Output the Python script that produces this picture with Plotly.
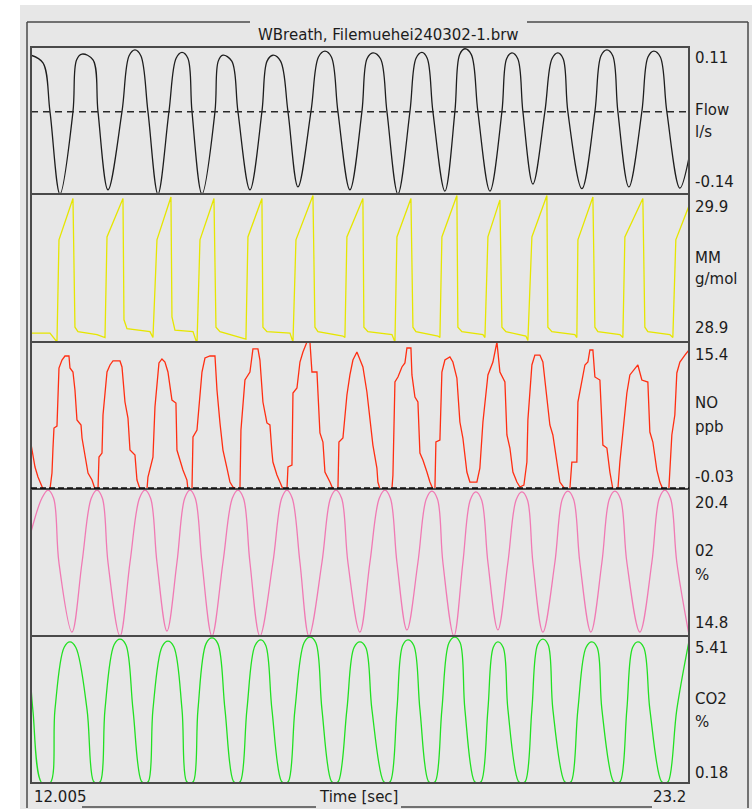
import plotly.graph_objects as go

# ---------------- data ----------------
time_start, time_end = 12.005, 23.2

flow_t = [12.005, 12.209, 12.328, 12.498,
          12.719, 12.78, 12.873, 13.06, 13.145, 13.315,
          13.553, 13.674, 13.774, 13.874, 13.995, 14.165,
          14.352, 14.474, 14.574, 14.674, 14.744, 14.914,
          15.135, 15.191, 15.271, 15.421, 15.526, 15.73,
          15.934, 16.021, 16.121, 16.251, 16.377, 16.547,
          16.768, 16.896, 17.006, 17.116, 17.227, 17.431,
          17.635, 17.722, 17.822, 17.952, 18.061, 18.248,
          18.452, 18.556, 18.656, 18.746, 18.843, 19.047,
          19.217, 19.297, 19.387, 19.497, 19.608, 19.813,
          20.017, 20.097, 20.187, 20.287, 20.374, 20.544,
          20.748, 20.869, 20.969, 21.059, 21.139, 21.378,
          21.599, 21.703, 21.803, 21.903, 21.99, 22.177,
          22.398, 22.502, 22.602, 22.712, 22.823, 23.045, 23.2]
flow_v = [0.096, 0.083, 0.0, -0.14,
          0.0, 0.088, 0.098, 0.088, 0.0, -0.133,
          0.0, 0.095, 0.105, 0.095, 0.0, -0.14,
          0.0, 0.091, 0.101, 0.091, 0.0, -0.14,
          0.0, 0.086, 0.096, 0.086, 0.0, -0.133,
          0.0, 0.086, 0.096, 0.086, 0.0, -0.128,
          0.0, 0.093, 0.103, 0.093, 0.0, -0.133,
          0.0, 0.09, 0.10, 0.09, 0.0, -0.14,
          0.0, 0.091, 0.101, 0.091, 0.0, -0.135,
          0.0, 0.097, 0.107, 0.097, 0.0, -0.135,
          0.0, 0.09, 0.10, 0.09, 0.0, -0.123,
          0.0, 0.09, 0.10, 0.09, 0.0, -0.131,
          0.0, 0.095, 0.105, 0.095, 0.0, -0.128,
          0.0, 0.093, 0.103, 0.093, 0.0, -0.13, -0.078]

mm_t = [12.005, 12.328, 12.447, 12.481, 12.719, 12.753,
        12.804, 13.128, 13.264, 13.298, 13.57, 13.587,
        13.638, 14.029, 14.08, 14.148, 14.386, 14.403,
        14.454, 14.761, 14.829, 14.88, 15.118, 15.152,
        15.22, 15.611, 15.662, 15.696, 15.934, 15.951,
        16.019, 16.411, 16.462, 16.513, 16.802, 16.836,
        16.887, 17.312, 17.346, 17.38, 17.652, 17.669,
        17.737, 18.146, 18.197, 18.231, 18.469, 18.503,
        18.554, 18.928, 18.962, 18.996, 19.251, 19.268,
        19.336, 19.694, 19.728, 19.779, 19.983, 20.017,
        20.085, 20.425, 20.459, 20.527, 20.782, 20.799,
        20.867, 21.258, 21.292, 21.31, 21.565, 21.599,
        21.65, 22.024, 22.075, 22.109, 22.415, 22.449,
        22.5, 22.874, 22.925, 22.976, 23.2]
mm_v = [28.96, 28.96, 28.9, 29.59, 29.87, 29.0,
        28.97, 28.95, 28.93, 29.61, 29.87, 29.05,
        28.99, 28.97, 28.93, 29.59, 29.88, 29.07,
        28.98, 28.97, 28.89, 29.59, 29.87, 29.0,
        28.97, 28.93, 28.92, 29.61, 29.87, 29.0,
        28.97, 28.96, 28.9, 29.59, 29.89, 29.0,
        28.97, 28.94, 28.93, 29.61, 29.87, 29.0,
        28.97, 28.95, 28.9, 29.61, 29.87, 29.0,
        28.97, 28.94, 28.93, 29.61, 29.89, 29.0,
        28.97, 28.95, 28.93, 29.61, 29.86, 29.0,
        28.97, 28.94, 28.91, 29.61, 29.89, 29.0,
        28.97, 28.95, 28.93, 29.59, 29.88, 29.0,
        28.97, 28.95, 28.93, 29.61, 29.87, 29.0,
        28.97, 28.95, 28.93, 29.59, 29.82]

no_t = [12.005, 12.039, 12.073, 12.124, 12.192, 12.209, 12.328, 12.345, 12.362, 12.379, 12.396, 12.447, 12.464,
        12.481, 12.532, 12.583, 12.651, 12.668, 12.719, 12.753, 12.787, 12.856, 12.873, 12.924, 12.975, 13.043,
        13.094, 13.145,
        13.162, 13.213, 13.23, 13.298, 13.349, 13.4, 13.519, 13.553, 13.604, 13.655, 13.689, 13.774, 13.808, 13.859, 13.978,
        13.995, 14.08, 14.114, 14.148, 14.182, 14.233, 14.284, 14.335, 14.403, 14.471, 14.488, 14.539, 14.59, 14.658, 14.675, 14.744,
        14.761, 14.829, 14.914, 14.965, 15.05, 15.135, 15.169, 15.22, 15.271, 15.339, 15.39, 15.441, 15.509, 15.56,
        15.577, 15.645, 15.73, 15.781, 15.866, 15.9, 15.951, 16.019, 16.07, 16.104, 16.121, 16.189, 16.24, 16.291, 16.36,
        16.377, 16.445, 16.462, 16.53, 16.581, 16.632, 16.7, 16.751, 16.785, 16.87, 16.921, 16.972, 17.006, 17.091, 17.142, 17.227,
        17.244, 17.312, 17.38, 17.431, 17.482, 17.55, 17.601, 17.652, 17.72, 17.771, 17.822, 17.89, 17.907, 17.941, 18.146,
        18.163, 18.197, 18.248, 18.316, 18.367, 18.401, 18.469, 18.486, 18.537, 18.588, 18.622, 18.673, 18.741, 18.792, 18.843, 18.877,
        18.894, 18.962, 18.996, 19.047, 19.132, 19.183, 19.251, 19.302, 19.353, 19.421, 19.472, 19.591,
        19.642, 19.676, 19.694, 19.779, 19.864, 19.932, 19.983, 20.068, 20.102, 20.153, 20.204, 20.272, 20.323, 20.391,
        20.442, 20.459, 20.527, 20.578, 20.663, 20.714, 20.782, 20.833, 20.884, 20.953, 21.003, 21.088, 21.173,
        21.207, 21.292, 21.31, 21.378, 21.429, 21.48, 21.514, 21.565, 21.599, 21.684, 21.735, 21.803, 21.854, 21.905, 21.99,
        22.024, 22.075, 22.143, 22.194, 22.279, 22.33, 22.398, 22.5, 22.534, 22.585, 22.653, 22.704, 22.755, 22.857,
        22.908, 22.959, 22.993, 23.045, 23.13, 23.2]
no_v = [4.69, 3.32, 2.28, 1.23, 0.18, -0.03, -0.03, 0.6, 1.65, 4.27, 6.37, 6.58, 9.63,
        12.67, 13.51, 13.93, 13.93, 12.67, 12.25, 10.36, 7.21, 6.69, 5.32, 3.22, 1.65, 0.91,
        -0.03, -0.03,
        3.32, 3.74, 7.74, 12.25, 12.99, 13.41, 13.41, 12.78, 9.1, 7.42, 4.06, 3.53, 0.91, -0.03, -0.03,
        1.23, 3.32, 8.58, 10.68, 13.2, 13.62, 13.3, 12.25, 9.31, 9.0, 4.06, 3.01, 1.96, 0.91, -0.03, -0.03,
        5.43, 6.16, 12.25, 13.72, 13.93, 13.93, 10.36, 6.9, 4.06, 2.17, 0.7, 0.18, -0.03, -0.03,
        6.16, 11.41, 12.25, 14.67, 14.67, 13.51, 9.1, 6.9, 6.69, 3.85, 2.8, 1.44, 0.6, -0.03, -0.03,
        2.28, 2.49, 10.05, 10.57, 13.3, 14.35, 15.4, 15.4, 12.25, 12.25, 5.85, 4.9, 1.75, 0.7, -0.03, -0.03,
        4.9, 5.32, 9.84, 11.94, 13.51, 14.35, 13.51, 12.78, 10.15, 7.42, 4.58, 2.17, 0.7, -0.03, -0.03,
        1.44, 11.2, 11.73, 12.78, 13.2, 14.77, 14.77, 11.94, 9.63, 9.1, 3.74, 3.01, 1.75, 0.7, -0.03, -0.03,
        4.9, 5.11, 12.25, 13.51, 13.83, 13.3, 11.62, 7.0, 5.32, 1.75, 0.7, 0.7,
        2.17, 5.64, 7.0, 11.94, 13.3, 15.4, 12.25, 11.2, 5.64, 4.27, 1.75, 0.7, 0.18, 0.39,
        2.8, 7.21, 12.99, 14.03, 14.03, 13.3, 9.52, 6.69, 5.64, 2.7, 0.7, -0.03, -0.03,
        2.8, 2.8, 9.1, 11.2, 12.99, 13.3, 14.56, 14.56, 11.73, 11.41, 4.58, 4.27, 1.75, -0.03, -0.03,
        2.8, 5.95, 10.05, 11.94, 12.67, 12.99, 11.41, 11.2, 5.95, 4.9, 1.96, 0.7, -0.03, -0.03,
        5.64, 7.74, 12.15, 13.3, 14.03, 14.56]

o2_t = [12.005, 12.19, 12.294, 12.39, 12.48, 12.702,
        12.873, 13.03, 13.128, 13.22, 13.315, 13.519,
        13.689, 13.85, 13.944, 14.04, 14.148, 14.318,
        14.488, 14.62, 14.71, 14.80, 14.914, 15.084,
        15.271, 15.43, 15.526, 15.62, 15.73, 15.9,
        16.121, 16.27, 16.36, 16.45, 16.581, 16.734,
        16.955, 17.10, 17.193, 17.29, 17.397, 17.601,
        17.771, 17.93, 18.027, 18.12, 18.231, 18.401,
        18.588, 18.73, 18.826, 18.92, 19.013, 19.2,
        19.353, 19.48, 19.574, 19.67, 19.779, 19.949,
        20.119, 20.26, 20.357, 20.45, 20.544, 20.714,
        20.918, 21.045, 21.139, 21.235, 21.343, 21.531,
        21.718, 21.845, 21.939, 22.035, 22.143, 22.364,
        22.568, 22.695, 22.789, 22.885, 22.993, 23.2]
o2_v = [18.76, 20.05, 20.36, 20.05, 17.6, 14.95,
        17.6, 20.05, 20.36, 20.05, 17.6, 14.8,
        17.6, 20.05, 20.36, 20.05, 17.6, 14.99,
        17.6, 20.05, 20.36, 20.05, 17.6, 14.8,
        17.6, 20.05, 20.36, 20.05, 17.6, 14.8,
        17.6, 20.05, 20.36, 20.05, 17.6, 14.8,
        17.6, 20.05, 20.36, 20.05, 17.6, 14.95,
        17.6, 20.05, 20.36, 20.05, 17.6, 15.03,
        17.6, 20.02, 20.32, 20.02, 17.6, 14.8,
        17.6, 19.99, 20.29, 19.99, 17.6, 15.03,
        17.6, 19.99, 20.29, 19.99, 17.6, 14.95,
        17.6, 20.02, 20.32, 20.02, 17.6, 14.95,
        17.6, 20.02, 20.32, 20.02, 17.6, 14.95,
        17.6, 20.05, 20.36, 20.05, 17.6, 14.84]

co2_t = [12.005, 12.04, 12.19, 12.33,
         12.413, 12.568, 12.668, 12.768, 12.958, 13.068, 13.128, 13.188,
         13.264, 13.419, 13.519, 13.619, 13.74, 13.884, 13.944, 14.004,
         14.08, 14.235, 14.335, 14.435, 14.574, 14.65, 14.71, 14.77,
         14.846, 14.984, 15.084, 15.184, 15.305, 15.449, 15.509, 15.569,
         15.679, 15.817, 15.917, 16.0, 16.104, 16.266, 16.326, 16.386,
         16.496, 16.651, 16.751, 16.851, 16.955, 17.116, 17.176, 17.236,
         17.38, 17.501, 17.601, 17.701, 17.805, 18.001, 18.061, 18.121,
         18.231, 18.328, 18.418, 18.518, 18.622, 18.766, 18.826, 18.886,
         18.996, 19.117, 19.217, 19.307, 19.387, 19.548, 19.608, 19.668,
         19.779, 19.869, 19.949, 20.039, 20.119, 20.297, 20.357, 20.417,
         20.527, 20.624, 20.714, 20.804, 20.884, 21.079, 21.139, 21.199,
         21.31, 21.448, 21.548, 21.638, 21.718, 21.913, 21.973, 22.033,
         22.143, 22.24, 22.33, 22.43, 22.534, 22.729, 22.789, 22.849,
         22.993, 23.2]
co2_v = [3.6, 2.7, 0.18, 0.18,
         2.8, 5.0, 5.2, 5.0, 2.8, 0.24, 0.18, 0.24,
         2.8, 5.1, 5.3, 5.1, 2.8, 0.24, 0.18, 0.24,
         2.8, 5.03, 5.23, 5.03, 2.8, 0.24, 0.18, 0.24,
         2.8, 5.14, 5.34, 5.14, 2.8, 0.24, 0.18, 0.24,
         2.8, 5.07, 5.27, 5.07, 2.8, 0.24, 0.18, 0.24,
         2.8, 5.17, 5.37, 5.17, 2.8, 0.24, 0.18, 0.24,
         2.8, 5.0, 5.2, 5.0, 2.8, 0.24, 0.18, 0.24,
         2.8, 5.07, 5.27, 5.07, 2.8, 0.24, 0.18, 0.24,
         2.8, 5.17, 5.37, 5.17, 2.8, 0.24, 0.18, 0.24,
         2.8, 5.0, 5.2, 5.0, 2.8, 0.24, 0.18, 0.24,
         2.8, 5.1, 5.3, 5.1, 2.8, 0.24, 0.18, 0.24,
         2.8, 5.0, 5.2, 5.0, 2.8, 0.24, 0.18, 0.24,
         2.8, 5.0, 5.2, 5.0, 2.8, 0.24, 0.18, 0.24,
         2.8, 5.23]

channel_names = ["Flow", "MM", "NO", "02", "CO2"]
channel_units = ["l/s", "g/mol", "ppb", "%", "%"]
range_top = [0.11, 29.9, 15.4, 20.4, 5.41]
range_bottom = [-0.14, 28.9, -0.03, 14.8, 0.18]
top_labels = ["0.11", "29.9", "15.4", "20.4", "5.41"]
bottom_labels = ["-0.14", "28.9", "-0.03", "14.8", "0.18"]

title_text = "WBreath, Filemuehei240302-1.brw"
x_title = "Time [sec]"
x_start_label = "12.005"
x_end_label = "23.2"

# ---------------- layout helpers ----------------
W, H = 755, 809
FONT = "DejaVu Sans"
FS = 15
TXT = "#1c1c1c"
FRAME = "#4a4a4a"


def px(x):
    return x / W


def py(y):
    return 1 - y / H


series = [(flow_t, flow_v), (mm_t, mm_v), (no_t, no_v), (o2_t, o2_v), (co2_t, co2_v)]
colors = ["#1e1e1e", "#e6e600", "#ff2e12", "#f07ab4", "#22e022"]
shapes_line = ["spline", "linear", "linear", "spline", "spline"]
panel_top = [47, 194, 342, 489, 636]
panel_bot = [194, 342, 489, 636, 783]
label_y = [(58, 110, 132, 182), (207, 258, 279, 328), (355, 403, 427, 477),
           (503, 551, 575, 623), (648, 699, 722, 773)]

fig = go.Figure()
layout = {}
annotations = []
shapes = []

# gray panel background
shapes.append(dict(type="rect", xref="paper", yref="paper", x0=px(20), x1=px(752), y0=py(809), y1=py(5),
                   fillcolor="#e7e7e7", line=dict(width=0), layer="below"))

for i in range(5):
    k = i + 1
    xa = "x" if k == 1 else f"x{k}"
    ya = "y" if k == 1 else f"y{k}"
    t, v = series[i]
    fig.add_trace(go.Scatter(x=t, y=v, mode="lines", xaxis=xa, yaxis=ya, hoverinfo="skip",
                             showlegend=False,
                             line=dict(color=colors[i], width=1.3, shape=shapes_line[i], smoothing=1.0)))
    layout["xaxis" if k == 1 else f"xaxis{k}"] = dict(domain=[px(31), px(689)], range=[time_start, time_end],
                                                       visible=False, anchor=ya, fixedrange=True)
    layout["yaxis" if k == 1 else f"yaxis{k}"] = dict(domain=[py(panel_bot[i]), py(panel_top[i])],
                                                       range=[range_bottom[i], range_top[i]],
                                                       visible=False, anchor=xa, fixedrange=True)
    ly = label_y[i]
    for txt, yy in zip([top_labels[i], channel_names[i], channel_units[i], bottom_labels[i]], ly):
        annotations.append(dict(text=txt, x=px(693), y=py(yy), xref="paper", yref="paper",
                                xanchor="left", yanchor="middle", showarrow=False,
                                font=dict(family=FONT, size=FS, color=TXT)))

# zero reference lines
shapes.append(dict(type="line", xref="x", yref="y", x0=time_start, x1=time_end, y0=0, y1=0,
                   line=dict(color="#2a2a2a", width=1.5, dash="7px,5px")))

# panel frame
shapes.append(dict(type="rect", xref="paper", yref="paper", x0=px(31), x1=px(689), y0=py(783), y1=py(47),
                   line=dict(color=FRAME, width=2)))
for yy in panel_bot[:-1]:
    shapes.append(dict(type="line", xref="paper", yref="paper", x0=px(31), x1=px(689), y0=py(yy), y1=py(yy),
                       line=dict(color=FRAME, width=2)))
shapes.append(dict(type="line", xref="x3", yref="y3", x0=time_start, x1=time_end, y0=0, y1=0,
                   line=dict(color="#111111", width=3, dash="6px,3px")))

# outer frame (gaps for title and bottom labels)
outer = [
    (27, 22, 27, 808), (748, 22, 748, 808),
    (27, 22, 250, 22), (527, 22, 748, 22),
    (82, 807, 316, 807), (401, 807, 652, 807),
]
for x0, y0, x1, y1 in outer:
    shapes.append(dict(type="line", xref="paper", yref="paper", x0=px(x0), x1=px(x1), y0=py(y0), y1=py(y1),
                       line=dict(color=FRAME, width=1.5)))

annotations.append(dict(text=title_text, x=px(388), y=py(35), xref="paper", yref="paper",
                        xanchor="center", yanchor="middle", showarrow=False,
                        font=dict(family=FONT, size=FS, color=TXT)))
annotations.append(dict(text=x_start_label, x=px(32), y=py(797), xref="paper", yref="paper",
                        xanchor="left", yanchor="middle", showarrow=False,
                        font=dict(family=FONT, size=FS, color=TXT)))
annotations.append(dict(text=x_title, x=px(358), y=py(797), xref="paper", yref="paper",
                        xanchor="center", yanchor="middle", showarrow=False,
                        font=dict(family=FONT, size=FS, color=TXT)))
annotations.append(dict(text=x_end_label, x=px(688), y=py(797), xref="paper", yref="paper",
                        xanchor="right", yanchor="middle", showarrow=False,
                        font=dict(family=FONT, size=FS, color=TXT)))

fig.update_layout(width=W, height=H, margin=dict(l=0, r=0, t=0, b=0), autosize=False,
                  paper_bgcolor="white", plot_bgcolor="rgba(0,0,0,0)",
                  shapes=shapes, annotations=annotations, **layout)
fig.write_html("out.html", config={"displayModeBar": False},
               post_script="document.body.style.margin='0';document.body.style.overflow='hidden';")
